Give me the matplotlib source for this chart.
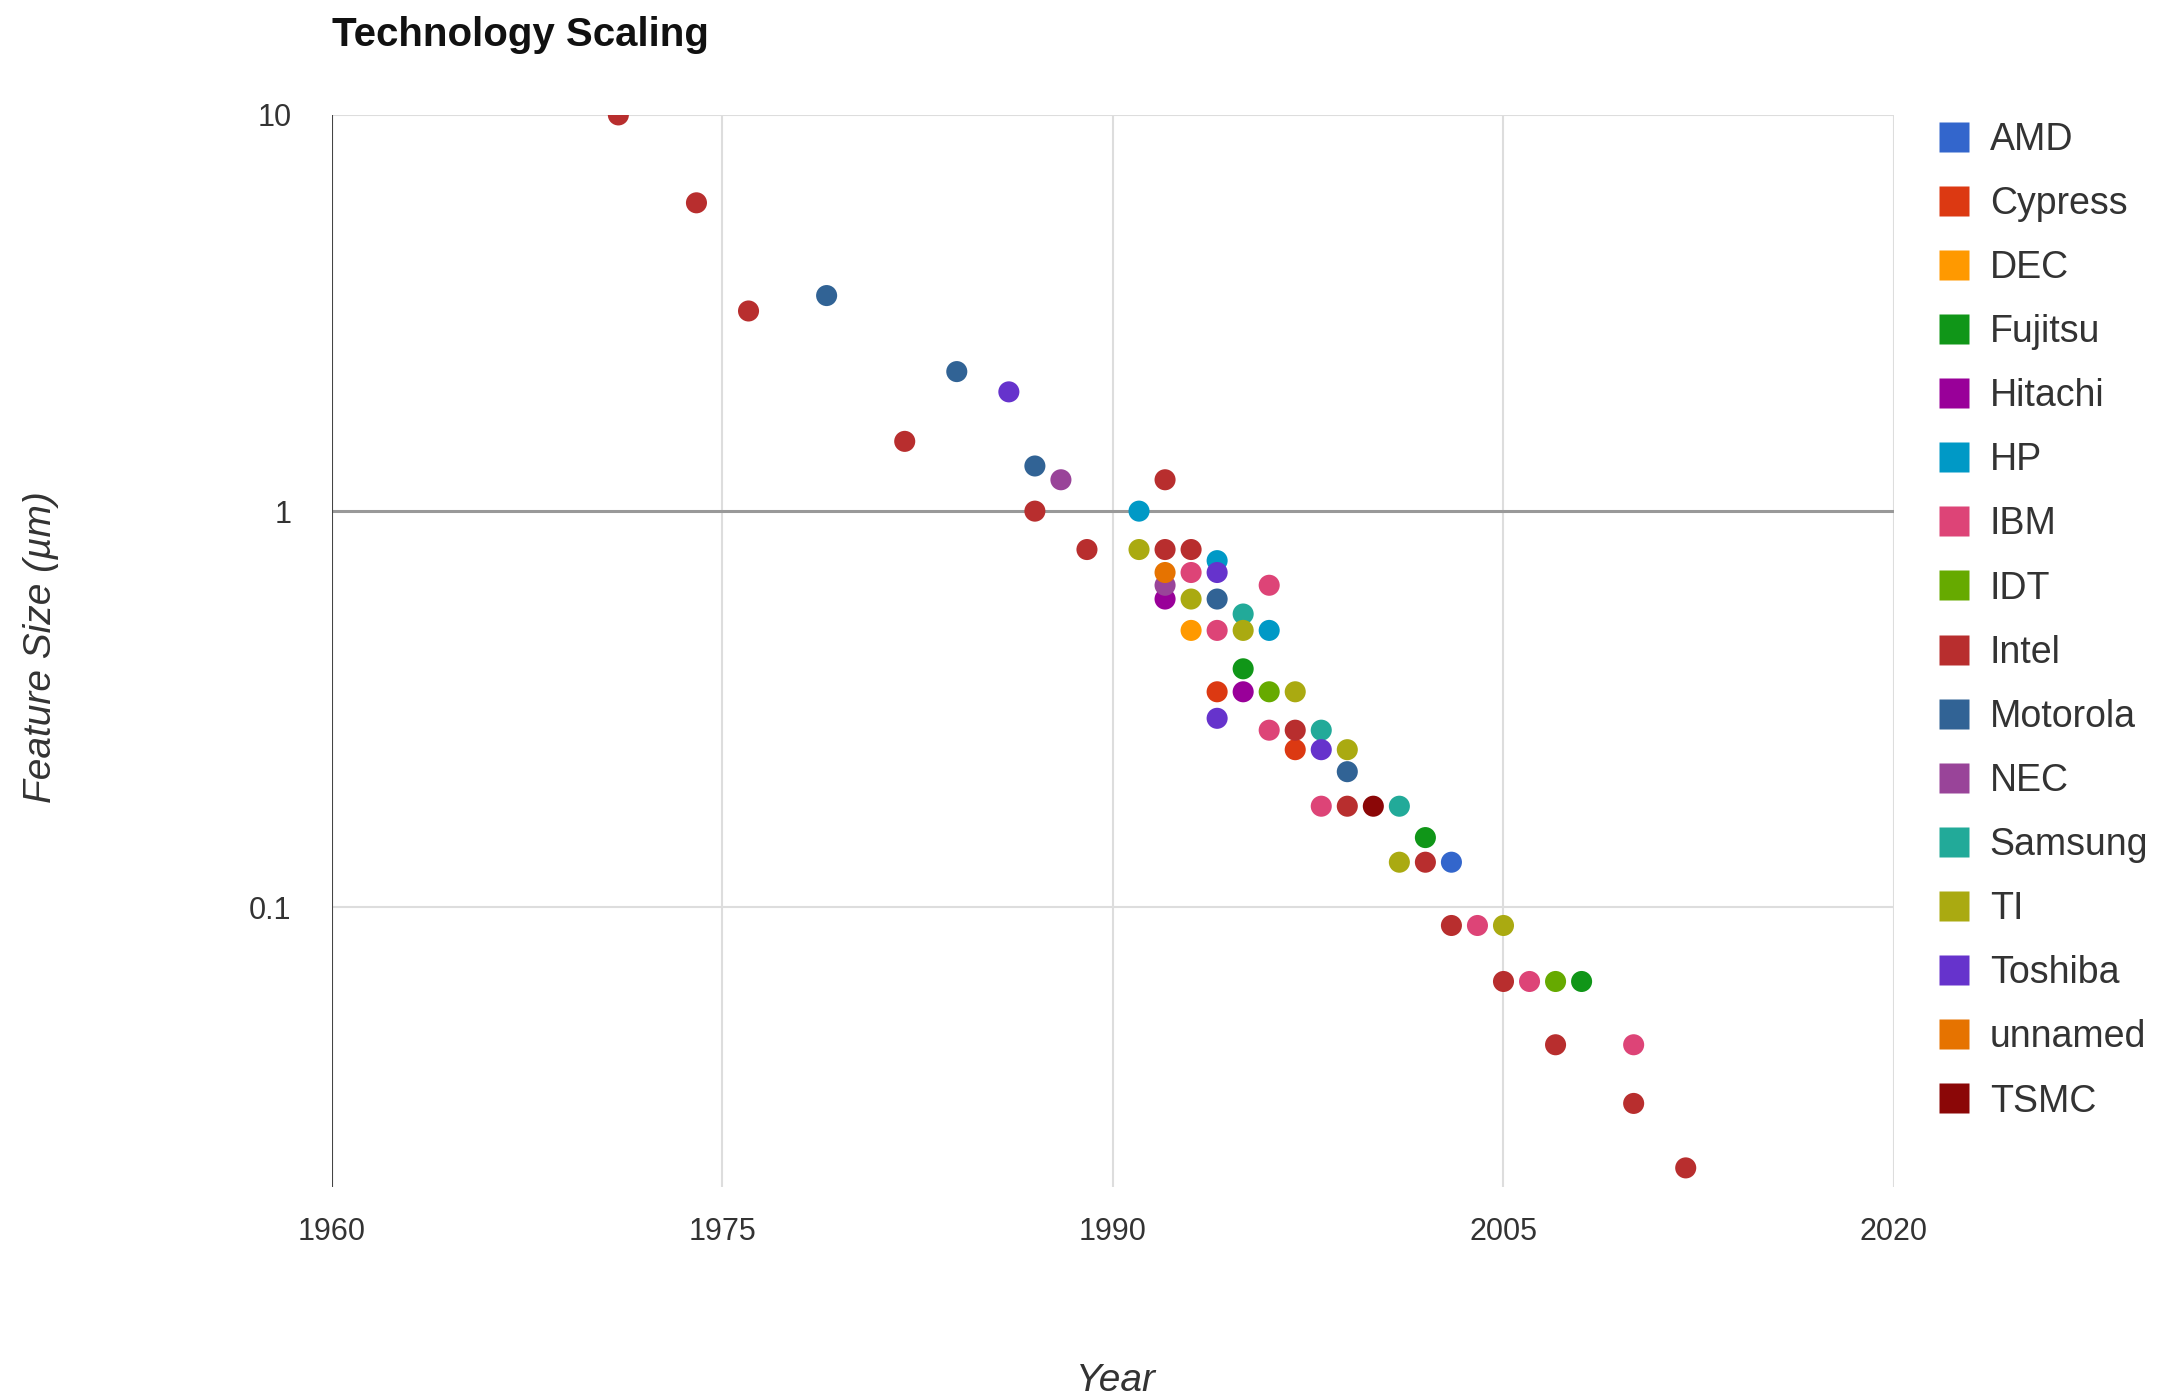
import matplotlib
matplotlib.use("Agg")
import matplotlib.pyplot as plt
from matplotlib.lines import Line2D

plt.rcParams['font.family'] = ['Liberation Sans', 'DejaVu Sans']

companies = ["AMD", "Cypress", "DEC", "Fujitsu", "Hitachi", "HP", "IBM", "IDT",
             "Intel", "Motorola", "NEC", "Samsung", "TI", "Toshiba", "unnamed", "TSMC"]
colors = ["#3366cc", "#dc3912", "#ff9900", "#109618", "#990099", "#0099c6", "#dd4477",
          "#66aa00", "#b82e2e", "#316395", "#994499", "#22aa99", "#aaaa11", "#6633cc",
          "#e67300", "#8b0707"]

amd_years = [2003]
amd_size = [0.13]
cypress_years = [1994, 1997]
cypress_size = [0.35, 0.25]
dec_years = [1993]
dec_size = [0.5]
fujitsu_years = [1995, 2002, 2008]
fujitsu_size = [0.4, 0.15, 0.065]
hitachi_years = [1992, 1995]
hitachi_size = [0.6, 0.35]
hp_years = [1991, 1994, 1996]
hp_size = [1.0, 0.75, 0.5]
ibm_years = [1993, 1994, 1996, 1996, 1998, 2004, 2006, 2010]
ibm_size = [0.7, 0.5, 0.65, 0.28, 0.18, 0.09, 0.065, 0.045]
idt_years = [1996, 2007]
idt_size = [0.35, 0.065]
intel_years = [1971, 1974, 1976, 1982, 1987, 1989, 1992, 1992, 1993, 1997, 1999,
               2002, 2003, 2005, 2007, 2010, 2012]
intel_size = [10, 6, 3.2, 1.5, 1.0, 0.8, 1.2, 0.8, 0.8, 0.28, 0.18,
              0.13, 0.09, 0.065, 0.045, 0.032, 0.022]
motorola_years = [1979, 1984, 1987, 1994, 1999]
motorola_size = [3.5, 2.25, 1.3, 0.6, 0.22]
nec_years = [1988, 1992]
nec_size = [1.2, 0.65]
samsung_years = [1995, 1998, 2001]
samsung_size = [0.55, 0.28, 0.18]
ti_years = [1991, 1993, 1995, 1997, 1999, 2001, 2005]
ti_size = [0.8, 0.6, 0.5, 0.35, 0.25, 0.13, 0.09]
toshiba_years = [1986, 1994, 1994, 1998]
toshiba_size = [2.0, 0.7, 0.3, 0.25]
unnamed_years = [1992]
unnamed_size = [0.7]
tsmc_years = [2000]
tsmc_size = [0.18]

series = [
    (amd_years, amd_size), (cypress_years, cypress_size), (dec_years, dec_size),
    (fujitsu_years, fujitsu_size), (hitachi_years, hitachi_size), (hp_years, hp_size),
    (ibm_years, ibm_size), (idt_years, idt_size), (intel_years, intel_size),
    (motorola_years, motorola_size), (nec_years, nec_size), (samsung_years, samsung_size),
    (ti_years, ti_size), (toshiba_years, toshiba_size), (unnamed_years, unnamed_size),
    (tsmc_years, tsmc_size),
]

x_ticks = [1960, 1975, 1990, 2005, 2020]
y_ticks = [0.1, 1, 10]
y_tick_labels = ["0.1", "1", "10"]

fig = plt.figure(figsize=(21.77, 13.98), dpi=100)
ax = fig.add_axes([0.1525, 0.151, 0.7175, 0.7668])

ax.set_yscale('log')
ax.set_xlim(1960, 2020)
ax.set_ylim(0.0197, 10)

# grid lines
for xv in x_ticks[1:]:
    ax.axvline(xv, color="#dddddd", lw=1.5, zorder=0)
for yv in y_ticks:
    if yv == 1:
        ax.axhline(yv, color="#999999", lw=2.2, zorder=0)
    else:
        ax.axhline(yv, color="#dddddd", lw=1.5, zorder=0)
ax.axvline(1960, color="#444444", lw=1.5, zorder=1)

for (xs, ys), c, name in zip(series, colors, companies):
    ax.scatter(xs, ys, s=230, color=c, edgecolors='none', zorder=3, label=name)

for sp in ax.spines.values():
    sp.set_visible(False)
ax.tick_params(axis='both', length=0, labelsize=22, colors="#333333")
ax.set_xticks(x_ticks)
ax.set_xticklabels([str(v) for v in x_ticks])
ax.tick_params(axis='x', pad=22)
ax.tick_params(axis='y', pad=29)
ax.set_yticks(y_ticks)
ax.set_yticklabels(y_tick_labels)
ax.yaxis.set_minor_locator(matplotlib.ticker.NullLocator())

fig.text(0.5125, 0.012, "Year", fontsize=28, style='italic', color="#333333",
         ha='center', va='center')
fig.text(0.019, 0.537, "Feature Size (µm)", rotation=90, fontsize=28, style='italic',
         color="#333333", ha='center', va='center')
fig.text(0.1525, 0.975, "Technology Scaling", fontsize=29, fontweight='bold',
         color="#111111", ha='left', va='center')

handles = [Line2D([0], [0], marker='s', linestyle='none', markersize=21.5,
                  markerfacecolor=c, markeredgecolor='none') for c in colors]
leg = fig.legend(handles, companies, loc='upper left', bbox_to_anchor=(0.8897, 0.913),
                 frameon=False, fontsize=27, labelspacing=0.75, handletextpad=0.48,
                 handlelength=0.93, borderaxespad=0, borderpad=0)
for t in leg.get_texts():
    t.set_color("#333333")

fig.savefig("out.png", dpi=100, facecolor='white')
